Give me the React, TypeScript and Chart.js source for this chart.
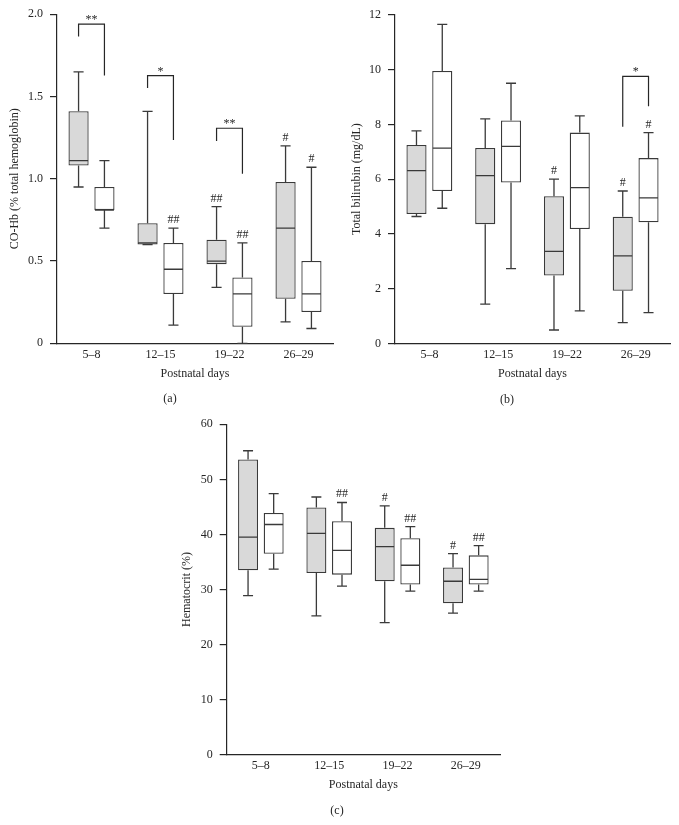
import React, { useEffect, useRef } from "react";
import { Chart, registerables } from "chart.js";

Chart.register(...registerables);

// ---------- data ----------
const categories = ["5–8", "12–15", "19–22", "26–29"];
const xTitle = "Postnatal days";

// Panel (a): CO-Hb
const coTicks = ["0", "0.5", "1.0", "1.5", "2.0"];
const coGrayMin = [0.95, 0.6, 0.34, 0.13];
const coGrayQ1 = [1.08, 0.6, 0.48, 0.27];
const coGrayMed = [1.11, 0.61, 0.5, 0.7];
const coGrayQ3 = [1.41, 0.73, 0.63, 0.98];
const coGrayMax = [1.65, 1.41, 0.83, 1.2];
const coWhiteMin = [0.7, 0.11, 0.0, 0.09];
const coWhiteQ1 = [0.81, 0.3, 0.1, 0.19];
const coWhiteMed = [0.81, 0.45, 0.3, 0.3];
const coWhiteQ3 = [0.95, 0.61, 0.4, 0.5];
const coWhiteMax = [1.11, 0.7, 0.61, 1.07];
const coGrayMarks = ["", "", "##", "#"];
const coWhiteMarks = ["", "##", "##", "#"];
// brackets: category index, label, left-leg bottom, top, right-leg bottom (value units)
const coBracketCat = [0, 1, 2];
const coBracketLabel = ["**", "*", "**"];
const coBracketLeft = [1.865, 1.552, 1.229];
const coBracketTop = [1.94, 1.627, 1.307];
const coBracketRight = [1.627, 1.235, 1.03];

// Panel (b): Total bilirubin
const biTicks = ["0", "2", "4", "6", "8", "10", "12"];
const biGrayMin = [4.64, 1.44, 0.5, 0.77];
const biGrayQ1 = [4.73, 4.36, 2.49, 1.93];
const biGrayMed = [6.31, 6.13, 3.37, 3.2];
const biGrayQ3 = [7.25, 7.14, 5.38, 4.63];
const biGrayMax = [7.76, 8.2, 6.0, 5.57];
const biWhiteMin = [4.94, 2.74, 1.2, 1.13];
const biWhiteQ1 = [5.57, 5.88, 4.18, 4.43];
const biWhiteMed = [7.13, 7.2, 5.69, 5.32];
const biWhiteQ3 = [9.95, 8.14, 7.7, 6.77];
const biWhiteMax = [11.65, 9.5, 8.31, 7.7];
const biGrayMarks = ["", "", "#", "#"];
const biWhiteMarks = ["", "", "", "#"];
const biBracketCat = [3];
const biBracketLabel = ["*"];
const biBracketLeft = [7.91];
const biBracketTop = [9.75];
const biBracketRight = [8.66];

// Panel (c): Hematocrit
const heTicks = ["0", "10", "20", "30", "40", "50", "60"];
const heGrayMin = [28.9, 25.2, 24.0, 25.7];
const heGrayQ1 = [33.5, 33.0, 31.5, 27.5];
const heGrayMed = [39.5, 40.2, 37.8, 31.5];
const heGrayQ3 = [53.6, 44.9, 41.2, 34.0];
const heGrayMax = [55.2, 46.8, 45.2, 36.5];
const heWhiteMin = [33.7, 30.6, 29.7, 29.7];
const heWhiteQ1 = [36.5, 32.7, 30.9, 30.9];
const heWhiteMed = [41.8, 37.1, 34.4, 31.85];
const heWhiteQ3 = [43.9, 42.4, 39.3, 36.2];
const heWhiteMax = [47.4, 45.8, 41.4, 37.95];
const heGrayMarks = ["", "", "#", "#"];
const heWhiteMarks = ["", "##", "##", "##"];

// ---------- styles ----------
const FONT = "'Liberation Serif', 'Times New Roman', serif";
const INK = "#262626";
const EDGE = "#3a3a3a";
const GRAY_FILL = "#d9d9d9";

type Stats = { min: number[]; q1: number[]; med: number[]; q3: number[]; max: number[] };
type Bracket = { cat: number; label: string; left: number; top: number; right: number };

const mkBrackets = (c: number[], l: string[], a: number[], t: number[], r: number[]): Bracket[] =>
  c.map((cat, i) => ({ cat, label: l[i], left: a[i], top: t[i], right: r[i] }));

const panels = [
  {
    key: "a",
    box: { left: 0, top: 0, width: 340, height: 410 },
    pad: { left: 7, right: 7, top: 13.3, bottom: 3.5 },
    yWidth: 50,
    yTitlePad: 0.3,
    yTitle: "CO-Hb (% total hemoglobin)",
    label: "(a)",
    min: 0, max: 2, step: 0.5, ticks: coTicks,
    gray: { min: coGrayMin, q1: coGrayQ1, med: coGrayMed, q3: coGrayQ3, max: coGrayMax },
    white: { min: coWhiteMin, q1: coWhiteQ1, med: coWhiteMed, q3: coWhiteQ3, max: coWhiteMax },
    grayMarks: coGrayMarks, whiteMarks: coWhiteMarks,
    brackets: mkBrackets(coBracketCat, coBracketLabel, coBracketLeft, coBracketTop, coBracketRight),
  },
  {
    key: "b",
    box: { left: 340, top: 0, width: 339, height: 410 },
    pad: { left: 4, right: 9, top: 14.7, bottom: 3.1 },
    yWidth: 51,
    yTitlePad: 5.5,
    yTitle: "Total bilirubin (mg/dL)",
    label: "(b)",
    min: 0, max: 12, step: 2, ticks: biTicks,
    gray: { min: biGrayMin, q1: biGrayQ1, med: biGrayMed, q3: biGrayQ3, max: biGrayMax },
    white: { min: biWhiteMin, q1: biWhiteQ1, med: biWhiteMed, q3: biWhiteQ3, max: biWhiteMax },
    grayMarks: biGrayMarks, whiteMarks: biWhiteMarks,
    brackets: mkBrackets(biBracketCat, biBracketLabel, biBracketLeft, biBracketTop, biBracketRight),
  },
  {
    key: "c",
    box: { left: 0, top: 410, width: 679, height: 415 },
    pad: { left: 174, right: 179, top: 14.3, bottom: 7.1 },
    yWidth: 52.7,
    yTitlePad: 5.5,
    yTitle: "Hematocrit (%)",
    label: "(c)",
    min: 0, max: 60, step: 10, ticks: heTicks,
    gray: { min: heGrayMin, q1: heGrayQ1, med: heGrayMed, q3: heGrayQ3, max: heGrayMax },
    white: { min: heWhiteMin, q1: heWhiteQ1, med: heWhiteMed, q3: heWhiteQ3, max: heWhiteMax },
    grayMarks: heGrayMarks, whiteMarks: heWhiteMarks,
    brackets: [] as Bracket[],
  },
];

type PanelCfg = (typeof panels)[number];

function BoxPanel({ cfg }: { cfg: PanelCfg }) {
  const ref = useRef<HTMLCanvasElement | null>(null);

  useEffect(() => {
    if (!ref.current) return;
    const groups: { stats: Stats; marks: string[] }[] = [
      { stats: cfg.gray, marks: cfg.grayMarks },
      { stats: cfg.white, marks: cfg.whiteMarks },
    ];

    const boxPlugin = {
      id: "boxWhisker" + cfg.key,
      afterDatasetsDraw(chart: any) {
        const ctx = chart.ctx as CanvasRenderingContext2D;
        const ys = chart.scales.y;
        const py = (v: number) => ys.getPixelForValue(v);
        ctx.save();
        ctx.strokeStyle = EDGE;
        ctx.lineWidth = 1.3;
        groups.forEach((g, di) => {
          const meta = chart.getDatasetMeta(di);
          meta.data.forEach((el: any, i: number) => {
            const x = el.x;
            const w = el.width;
            const s = g.stats;
            ctx.beginPath();
            ctx.moveTo(x, py(s.q3[i]));
            ctx.lineTo(x, py(s.max[i]));
            ctx.moveTo(x - w / 4, py(s.max[i]));
            ctx.lineTo(x + w / 4, py(s.max[i]));
            ctx.moveTo(x, py(s.q1[i]));
            ctx.lineTo(x, py(s.min[i]));
            ctx.moveTo(x - w / 4, py(s.min[i]));
            ctx.lineTo(x + w / 4, py(s.min[i]));
            ctx.moveTo(x - w / 2 + 0.6, py(s.med[i]));
            ctx.lineTo(x + w / 2 - 0.6, py(s.med[i]));
            ctx.stroke();
            const m = g.marks[i];
            if (m) {
              ctx.fillStyle = INK;
              ctx.font = `12px ${FONT}`;
              ctx.textAlign = "center";
              ctx.textBaseline = "alphabetic";
              ctx.fillText(m, x, py(s.max[i]) - 5);
            }
          });
        });
        // significance brackets
        const m0 = chart.getDatasetMeta(0);
        const m1 = chart.getDatasetMeta(1);
        cfg.brackets.forEach((b) => {
          const lx = m0.data[b.cat].x;
          const rx = m1.data[b.cat].x;
          const ty = py(b.top);
          ctx.strokeStyle = INK;
          ctx.lineWidth = 1.2;
          ctx.beginPath();
          ctx.moveTo(lx, py(b.left));
          ctx.lineTo(lx, ty);
          ctx.lineTo(rx, ty);
          ctx.lineTo(rx, py(b.right));
          ctx.stroke();
          ctx.fillStyle = INK;
          ctx.font = `12px ${FONT}`;
          ctx.textAlign = "center";
          ctx.textBaseline = "alphabetic";
          ctx.fillText(b.label, (lx + rx) / 2, ty - 1);
        });
        ctx.restore();
      },
    };

    const mkDataset = (s: Stats, fill: string) => ({
      data: categories.map((_, i) => [s.q1[i], s.q3[i]]),
      backgroundColor: fill,
      borderColor: EDGE,
      borderWidth: 1.3,
      borderSkipped: false as const,
      categoryPercentage: 0.75,
      barPercentage: 0.78,
    });

    const chart = new Chart(ref.current, {
      type: "bar",
      data: {
        labels: categories,
        datasets: [mkDataset(cfg.gray, GRAY_FILL), mkDataset(cfg.white, "#ffffff")] as any,
      },
      options: {
        responsive: false,
        animation: false,
        events: [],
        layout: { padding: cfg.pad },
        plugins: {
          legend: { display: false },
          tooltip: { enabled: false },
          title: {
            display: true,
            text: cfg.label,
            position: "bottom",
            color: INK,
            font: { family: FONT, size: 12, weight: "normal" as any },
            padding: { top: 11.3, bottom: 0 },
          },
        },
        scales: {
          x: {
            grid: { display: false, drawTicks: false },
            border: { display: true, color: INK, width: 1.2 },
            ticks: { color: INK, font: { family: FONT, size: 12 }, padding: 4 },
            title: {
              display: true,
              text: xTitle,
              color: INK,
              font: { family: FONT, size: 12 },
              padding: { top: 0, bottom: 0 },
            },
            afterFit: (s: any) => {
              s.height = 37.5;
            },
          },
          y: {
            min: cfg.min,
            max: cfg.max,
            ticks: {
              stepSize: cfg.step,
              color: INK,
              font: { family: FONT, size: 12 },
              padding: 7,
              callback: (_v: any, idx: number) => cfg.ticks[idx],
            },
            grid: { drawOnChartArea: false, drawTicks: true, tickLength: 7, color: INK, lineWidth: 1.2 },
            border: { display: true, color: INK, width: 1.2 },
            title: {
              display: true,
              text: cfg.yTitle,
              color: INK,
              font: { family: FONT, size: 12 },
              padding: { top: cfg.yTitlePad, bottom: 0 },
            },
            afterFit: (s: any) => {
              s.width = cfg.yWidth;
            },
          },
        },
      },
      plugins: [boxPlugin],
    });
    return () => chart.destroy();
  }, [cfg]);

  return (
    <canvas
      ref={ref}
      width={cfg.box.width}
      height={cfg.box.height}
      style={{
        position: "absolute",
        left: cfg.box.left,
        top: cfg.box.top,
        width: cfg.box.width,
        height: cfg.box.height,
      }}
    />
  );
}

export default function App() {
  return (
    <div style={{ position: "absolute", left: 0, top: 0, width: 679, height: 825, background: "#fff" }}>
      {panels.map((p) => (
        <BoxPanel key={p.key} cfg={p} />
      ))}
    </div>
  );
}
